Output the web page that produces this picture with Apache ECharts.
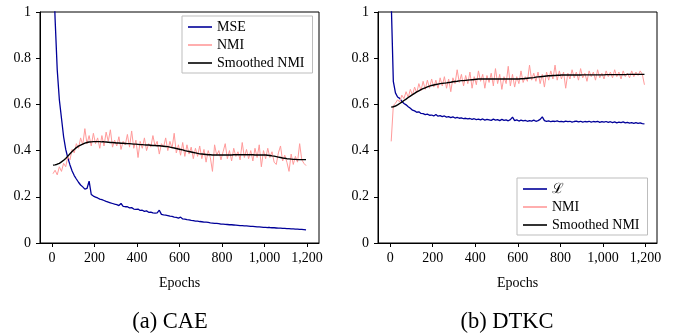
<!DOCTYPE html>
<html>
<head>
<meta charset="utf-8">
<script src="https://cdn.jsdelivr.net/npm/echarts@6/dist/echarts.min.js"></script>
<style>
html,body{margin:0;padding:0;background:#fff;}
#chart{width:685px;height:335px;}
</style>
</head>
<body>
<div id="chart"></div>
<script>
// Epoch samples (x values)
const epochs = [
  5,15,25,35,45,55,65,75,85,95,
  105,115,125,135,145,155,165,175,185,195,
  205,215,225,235,245,255,265,275,285,295,
  305,315,325,335,345,355,365,375,385,395,
  405,415,425,435,445,455,465,475,485,495,
  505,515,525,535,545,555,565,575,585,595,
  605,615,625,635,645,655,665,675,685,695,
  705,715,725,735,745,755,765,775,785,795,
  805,815,825,835,845,855,865,875,885,895,
  905,915,925,935,945,955,965,975,985,995,
  1005,1015,1025,1035,1045,1055,1065,1075,1085,1095,
  1105,1115,1125,1135,1145,1155,1165,1175,1185,1195
];

// (a) CAE
const caeMse = [
  1.25,0.97,0.75,0.62,0.54,0.46,0.405,0.368,0.338,0.312,
  0.292,0.277,0.263,0.251,0.243,0.233,0.236,0.268,0.21,0.203,
  0.199,0.195,0.19,0.188,0.184,0.18,0.177,0.174,0.171,0.168,
  0.166,0.162,0.171,0.159,0.157,0.157,0.152,0.153,0.147,0.146,
  0.147,0.141,0.142,0.137,0.139,0.133,0.134,0.13,0.129,0.13,
  0.142,0.124,0.122,0.121,0.119,0.116,0.115,0.112,0.111,0.108,
  0.112,0.104,0.103,0.101,0.1,0.098,0.097,0.095,0.095,0.093,
  0.092,0.09,0.09,0.089,0.087,0.086,0.085,0.085,0.084,0.082,
  0.082,0.081,0.08,0.079,0.079,0.078,0.077,0.076,0.075,0.075,
  0.074,0.074,0.073,0.072,0.072,0.071,0.07,0.07,0.069,0.068,
  0.068,0.067,0.067,0.066,0.066,0.065,0.064,0.064,0.063,0.063,
  0.062,0.062,0.061,0.061,0.06,0.06,0.059,0.059,0.058,0.057
];
const caeNmi = [
  0.3,0.315,0.295,0.33,0.31,0.345,0.33,0.375,0.36,0.405,
  0.39,0.43,0.41,0.455,0.425,0.495,0.43,0.465,0.42,0.475,
  0.43,0.455,0.41,0.465,0.42,0.48,0.44,0.49,0.415,0.445,
  0.42,0.46,0.405,0.44,0.425,0.47,0.415,0.485,0.41,0.445,
  0.37,0.44,0.41,0.455,0.4,0.43,0.415,0.465,0.42,0.44,
  0.385,0.43,0.415,0.455,0.4,0.44,0.41,0.475,0.39,0.425,
  0.38,0.435,0.375,0.425,0.385,0.415,0.365,0.41,0.375,0.42,
  0.365,0.405,0.35,0.4,0.37,0.31,0.425,0.38,0.4,0.36,
  0.395,0.43,0.365,0.4,0.355,0.41,0.375,0.395,0.36,0.435,
  0.37,0.405,0.365,0.4,0.355,0.41,0.37,0.425,0.33,0.4,
  0.365,0.41,0.37,0.395,0.35,0.34,0.39,0.42,0.355,0.38,
  0.35,0.31,0.385,0.34,0.375,0.35,0.43,0.36,0.345,0.335
];
const caeSmooth = [
  0.337,0.338,0.341,0.345,0.351,0.358,0.366,0.376,0.386,0.396,
  0.405,0.413,0.419,0.424,0.428,0.432,0.435,0.437,0.438,0.439,
  0.439,0.439,0.439,0.438,0.438,0.437,0.436,0.435,0.435,0.434,
  0.433,0.433,0.432,0.432,0.431,0.43,0.43,0.429,0.428,0.428,
  0.427,0.426,0.426,0.425,0.424,0.424,0.423,0.422,0.422,0.421,
  0.421,0.42,0.419,0.418,0.417,0.415,0.413,0.411,0.409,0.407,
  0.405,0.403,0.4,0.398,0.396,0.394,0.392,0.39,0.388,0.386,
  0.385,0.384,0.383,0.382,0.382,0.381,0.381,0.381,0.381,0.381,
  0.381,0.381,0.381,0.381,0.381,0.382,0.382,0.382,0.382,0.382,
  0.382,0.382,0.382,0.382,0.382,0.381,0.381,0.381,0.381,0.381,
  0.381,0.38,0.379,0.377,0.376,0.374,0.372,0.37,0.368,0.367,
  0.365,0.364,0.363,0.362,0.362,0.361,0.361,0.361,0.361,0.361
];

// (b) DTKC
const dtkcLoss = [
  1.05,0.70,0.65,0.632,0.626,0.613,0.604,0.598,0.59,0.583,
  0.575,0.572,0.566,0.568,0.561,0.56,0.556,0.558,0.553,0.554,
  0.55,0.556,0.549,0.551,0.547,0.55,0.545,0.547,0.543,0.546,
  0.541,0.544,0.54,0.542,0.538,0.54,0.537,0.539,0.535,0.538,
  0.534,0.536,0.533,0.537,0.532,0.535,0.533,0.531,0.536,0.532,
  0.534,0.53,0.535,0.531,0.533,0.529,0.534,0.545,0.53,0.533,
  0.528,0.532,0.529,0.531,0.527,0.53,0.528,0.532,0.527,0.53,
  0.535,0.546,0.53,0.527,0.529,0.525,0.528,0.526,0.529,0.525,
  0.527,0.524,0.528,0.525,0.527,0.523,0.526,0.528,0.524,0.527,
  0.523,0.526,0.524,0.527,0.523,0.526,0.524,0.527,0.522,0.525,
  0.523,0.526,0.522,0.525,0.521,0.524,0.52,0.523,0.521,0.524,
  0.52,0.522,0.519,0.521,0.518,0.521,0.518,0.52,0.517,0.516
];
const dtkcNmi = [
  0.44,0.595,0.605,0.62,0.61,0.64,0.625,0.655,0.63,0.665,
  0.64,0.675,0.65,0.69,0.66,0.7,0.665,0.705,0.67,0.71,
  0.675,0.705,0.67,0.715,0.68,0.72,0.67,0.71,0.655,0.715,
  0.69,0.75,0.695,0.73,0.68,0.725,0.69,0.74,0.67,0.72,
  0.685,0.745,0.7,0.73,0.67,0.725,0.695,0.735,0.68,0.755,
  0.69,0.73,0.665,0.72,0.69,0.765,0.68,0.73,0.675,0.72,
  0.69,0.745,0.695,0.72,0.7,0.77,0.705,0.735,0.7,0.74,
  0.69,0.73,0.675,0.74,0.705,0.745,0.71,0.77,0.705,0.745,
  0.71,0.74,0.67,0.735,0.71,0.75,0.715,0.74,0.705,0.755,
  0.715,0.735,0.7,0.745,0.72,0.74,0.705,0.75,0.715,0.735,
  0.71,0.745,0.72,0.74,0.715,0.75,0.72,0.74,0.71,0.745,
  0.72,0.735,0.715,0.745,0.72,0.74,0.725,0.745,0.73,0.685
];
const dtkcSmooth = [
  0.588,0.59,0.593,0.598,0.604,0.61,0.617,0.623,0.63,0.636,
  0.642,0.648,0.654,0.659,0.664,0.668,0.672,0.676,0.679,0.682,
  0.684,0.686,0.688,0.69,0.691,0.692,0.693,0.695,0.696,0.698,
  0.699,0.7,0.702,0.703,0.703,0.704,0.705,0.706,0.707,0.708,
  0.709,0.71,0.71,0.71,0.71,0.71,0.71,0.71,0.71,0.71,
  0.71,0.71,0.71,0.71,0.71,0.71,0.71,0.71,0.71,0.71,
  0.71,0.711,0.711,0.712,0.713,0.714,0.715,0.716,0.718,0.719,
  0.72,0.721,0.722,0.723,0.724,0.724,0.725,0.725,0.726,0.726,
  0.727,0.727,0.727,0.727,0.727,0.727,0.727,0.727,0.727,0.727,
  0.728,0.728,0.728,0.728,0.728,0.728,0.728,0.728,0.728,0.728,
  0.728,0.729,0.729,0.729,0.729,0.729,0.729,0.729,0.729,0.729,
  0.729,0.73,0.73,0.73,0.73,0.73,0.73,0.73,0.73,0.73
];

// Tick labels
const xTickValues = [0,200,400,600,800,1000,1200];
const xTickLabels = ['0','200','400','600','800','1,000','1,200'];
const yTickValues = [0,0.2,0.4,0.6,0.8,1];
const yTickLabels = ['0','0.2','0.4','0.6','0.8','1'];

const panelTitles = ['(a) CAE','(b) DTKC'];
const legendA = ['MSE','NMI','Smoothed NMI'];
const legendB = ['\u2112','NMI','Smoothed NMI'];

const SERIF = '"Liberation Serif","DejaVu Serif",serif';
const BLUE = '#000099';
const PINK = '#ff9a9a';
const BLACK = '#000000';

function pairs(xs, ys){ return xs.map((x,i)=>[x, ys[i]]); }

function xAxisCfg(gi, mn, mx){
  return {
    type:'value', gridIndex:gi, min:mn, max:mx,
    name:'Epochs', nameLocation:'middle', nameGap:33,
    nameTextStyle:{fontFamily:SERIF, fontSize:14, color:'#000'},
    axisLine:{show:true, onZero:false, lineStyle:{color:'#000', width:1}},
    axisTick:{show:true, length:4, lineStyle:{color:'#000'}, customValues:xTickValues},
    axisLabel:{fontFamily:SERIF, fontSize:14, color:'#000', margin:8, customValues:xTickValues,
      formatter:(v)=>{const i=xTickValues.indexOf(v); return i>=0?xTickLabels[i]:'';}},
    splitLine:{show:false}
  };
}
function yAxisCfg(gi){
  return {
    type:'value', gridIndex:gi, min:0, max:1, interval:0.2,
    axisLine:{show:true, onZero:false, lineStyle:{color:'#000', width:1}},
    axisTick:{show:true, length:4, lineStyle:{color:'#000'}},
    axisLabel:{fontFamily:SERIF, fontSize:14, color:'#000', margin:9,
      formatter:(v)=>{let i=-1; yTickValues.forEach((t,k)=>{if(Math.abs(t-v)<1e-6)i=k;}); return i>=0?yTickLabels[i]:'';}},
    splitLine:{show:false}
  };
}
function lineSeries(name, xi, yi, data, color, width, z){
  return {
    type:'line', name:name, xAxisIndex:xi, yAxisIndex:yi, data:data,
    showSymbol:false, symbol:'none', smooth:false, z:z,
    lineStyle:{color:color, width:width}, itemStyle:{color:color},
    emphasis:{disabled:true}, clip:true
  };
}
function legendCfg(names, left, top){
  return {
    data:names.map(n=>({name:n, icon:'rect'})),
    left:left, top:top, orient:'vertical',
    itemWidth:24, itemHeight:1.6, itemGap:4, padding:[4,8,3,6],
    borderColor:'#bdbdbd', borderWidth:1, backgroundColor:'#fff',
    textStyle:{fontFamily:SERIF, fontSize:14, color:'#000', lineHeight:14},
    selectedMode:false
  };
}

const chart = echarts.init(document.getElementById('chart'), null, {renderer:'canvas'});
chart.setOption({
  animation:false,
  backgroundColor:'#fff',
  grid:[
    {left:40, top:12, width:279, height:231, show:true, borderColor:'#000', borderWidth:1, backgroundColor:'transparent'},
    {left:378, top:12, width:279, height:231, show:true, borderColor:'#000', borderWidth:1, backgroundColor:'transparent'}
  ],
  xAxis:[xAxisCfg(0,-56,1256), xAxisCfg(1,-57,1254)],
  yAxis:[yAxisCfg(0), yAxisCfg(1)],
  legend:[legendCfg(legendA,182,16), legendCfg(legendB,517,178)],
  series:[
    lineSeries(legendA[0],0,0,pairs(epochs,caeMse),BLUE,1.3,2),
    lineSeries(legendA[1],0,0,pairs(epochs,caeNmi),PINK,1,3),
    lineSeries(legendA[2],0,0,pairs(epochs,caeSmooth),BLACK,1.4,4),
    lineSeries(legendB[0],1,1,pairs(epochs,dtkcLoss),BLUE,1.3,2),
    lineSeries(legendB[1],1,1,pairs(epochs,dtkcNmi),PINK,1,3),
    lineSeries(legendB[2],1,1,pairs(epochs,dtkcSmooth),BLACK,1.4,4)
  ],
  graphic:[
    {type:'text', x:170, y:322, style:{text:panelTitles[0], fontFamily:SERIF, fontSize:22.5, fill:'#000', textAlign:'center', textVerticalAlign:'middle'}},
    {type:'text', x:507, y:322, style:{text:panelTitles[1], fontFamily:SERIF, fontSize:22.5, fill:'#000', textAlign:'center', textVerticalAlign:'middle'}}
  ]
});
</script>
</body>
</html>
